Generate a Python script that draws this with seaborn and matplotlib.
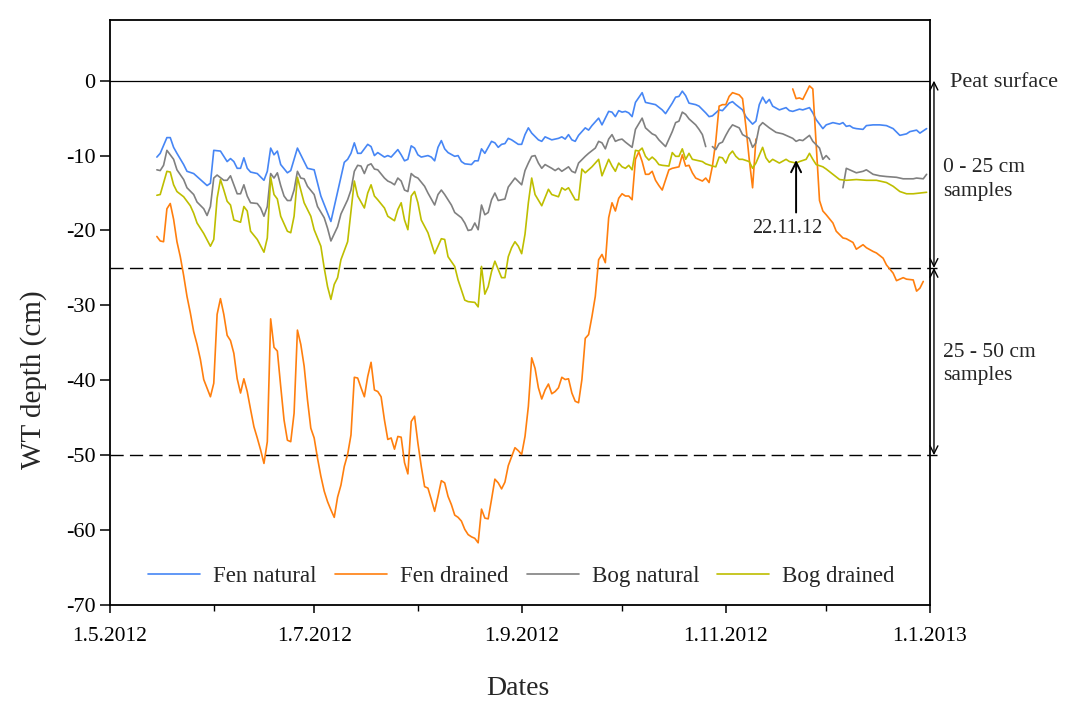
import numpy as np
import pandas as pd
import seaborn as sns
import matplotlib.pyplot as plt
import matplotlib.dates as mdates
from matplotlib.ticker import FuncFormatter

nan = np.nan
start = pd.Timestamp('2012-05-01')

# days after 1.5.2012 and water table depth (cm); nan = gap in record
fen_nat_day = [14, 15, 17, 18, 19, 20, 22, 23, 25, 27,
               29, 30, 31, 33, 35, 36, 37, 38, 39, 40,
               41, 42, 44, 46, 47, 48, 49, 50, 51, 53,
               54, 56, 57, 59, 61, 63, 66, 70, 71, 72,
               73, 74, 75, 77, 78, 79, 80, 82, 83, 84,
               86, 87, 88, 89, 90, 91, 92, 93, 95, 96,
               97, 98, 99, 100, 101, 103, 104, 105, 106, 108,
               109, 110, 111, 112, 114, 115, 116, 117, 118, 119,
               120, 122, 123, 124, 125, 126, 128, 129, 130, 132,
               134, 135, 136, 137, 138, 139, 140, 142, 143, 144,
               146, 147, 149, 150, 151, 152, 153, 154, 155, 156,
               157, 159, 160, 162, 163, 165, 166, 168, 169, 170,
               171, 172, 173, 175, 176, 178, 179, 180, 182, 183,
               185, 186, 187, 189, 190, 192, 193, 194, 195, 196,
               197, 198, 200, 202, 203, 204, 206, 207, 209, 210,
               211, 213, 214, 216, 218, 219, 220, 221, 222, 223,
               225, 226, 228, 230, 232, 234, 236, 238, 239, 241,
               242, 244]
fen_nat_wt = [-10.2, -9.7, -7.6, -7.6, -8.9, -9.7, -11.2, -12.1, -12.4, -13.2,
              -14.0, -13.7, -9.3, -9.4, -10.8, -10.4, -10.8, -11.7, -11.7, -10.3,
              -11.7, -12.2, -12.4, -13.3, -12.1, -9.0, -9.9, -9.4, -11.2, -12.3,
              -12.0, -9.0, -9.9, -11.7, -11.9, -15.4, -18.8, -10.9, -10.5, -9.7,
              -8.3, -9.7, -9.7, -8.5, -8.8, -10.0, -9.6, -10.2, -10.0, -10.2,
              -9.2, -9.9, -10.7, -10.5, -8.7, -9.0, -9.9, -10.2, -10.0, -10.2,
              -10.7, -8.9, -8.0, -9.1, -9.6, -10.1, -10.0, -10.8, -11.1, -11.2,
              -10.7, -10.7, -9.1, -9.7, -8.1, -8.3, -8.9, -8.5, -8.4, -7.7,
              -7.9, -8.5, -8.5, -7.2, -6.3, -7.0, -7.9, -8.1, -7.5, -7.9,
              -7.7, -7.5, -7.8, -7.2, -7.9, -8.1, -7.3, -6.3, -6.6, -6.0,
              -5.0, -5.9, -4.1, -4.2, -4.8, -4.0, -4.2, -4.1, -4.3, -4.8,
              -2.9, -1.6, -2.9, -3.1, -3.2, -3.9, -4.4, -3.0, -2.2, -2.1,
              -1.4, -2.0, -3.0, -3.2, -3.4, -4.3, -4.8, -4.7, -3.9, -4.0,
              -3.0, -2.8, -3.2, -3.9, -4.8, -5.8, -5.4, -3.2, -2.2, -3.0,
              -2.5, -3.4, -3.9, -3.6, -4.0, -4.1, -3.8, -3.9, -3.6, -4.3,
              -5.2, -6.4, -5.9, -5.6, -5.8, -5.6, -6.1, -6.0, -6.3, -6.4,
              -6.5, -6.0, -5.9, -5.9, -6.0, -6.4, -7.3, -7.1, -6.8, -6.6,
              -7.0, -6.4]

fen_dr_day = [14, 15, 16, 17, 18, 19, 20, 21, 22, 23,
              24, 25, 26, 27, 28, 30, 31, 32, 33, 34,
              35, 36, 37, 38, 39, 40, 41, 42, 43, 44,
              45, 46, 47, 48, 49, 50, 51, 52, 53, 54,
              55, 56, 57, 58, 59, 60, 61, 62, 63, 64,
              65, 66, 67, 68, 69, 70, 71, 72, 73, 74,
              75, 76, 77, 78, 79, 80, 81, 82, 83, 84,
              85, 86, 87, 88, 89, 90, 91, 92, 93, 94,
              95, 96, 97, 98, 99, 100, 101, 102, 103, 104,
              105, 106, 107, 108, 109, 110, 111, 112, 113, 114,
              115, 116, 117, 118, 119, 120, 121, 122, 123, 124,
              125, 126, 127, 128, 129, 130, 131, 132, 133, 134,
              135, 136, 137, 138, 139, 140, 141, 142, 143, 144,
              145, 146, 147, 148, 149, 150, 151, 152, 153, 154,
              155, 156, 157, 158, 159, 160, 161, 162, 163, 164,
              165, 167, 168, 170, 171, 172, 173, 174, 175, 176,
              177, 178, 179, 180, 181, 182, 183, 184, 185, 186,
              188, 189, 190, 191, 192, 193, 194, 204, 205, 206,
              207, 208, 209, 210, 211, 212, 213, 214, 216, 217,
              219, 220, 222, 223, 225, 226, 228, 229, 231, 232,
              234, 235, 237, 238, 240, 241, 242, 243]
fen_dr_wt = [-20.8, -21.4, -21.5, -17.1, -16.4, -18.5, -21.5, -23.5, -26.0, -28.8,
             -31.0, -33.5, -35.2, -37.2, -39.9, -42.2, -40.4, -31.2, -29.1, -31.2,
             -34.0, -34.7, -36.4, -39.8, -41.7, -39.8, -41.5, -43.9, -46.2, -47.7,
             -49.3, -51.1, -48.2, -31.8, -35.6, -36.1, -40.8, -45.3, -48.0, -48.2,
             -44.4, -33.3, -35.2, -38.1, -42.6, -46.4, -47.7, -50.4, -52.8, -54.8,
             -56.2, -57.3, -58.3, -55.6, -54.0, -51.5, -49.9, -47.3, -39.6, -39.7,
             -41.0, -42.2, -39.5, -37.6, -41.3, -41.5, -42.2, -45.3, -47.9, -47.7,
             -49.2, -47.5, -47.6, -51.0, -52.5, -45.5, -44.8, -48.4, -51.5, -54.2,
             -54.4, -55.9, -57.5, -55.5, -53.4, -53.7, -55.5, -56.6, -58.0, -58.3,
             -58.8, -59.9, -60.6, -60.9, -61.1, -61.7, -57.2, -58.4, -58.5, -55.9,
             -53.2, -53.7, -54.5, -53.6, -51.4, -50.2, -49.0, -49.4, -49.9, -47.5,
             -43.5, -37.0, -38.4, -41.0, -42.5, -41.3, -40.5, -41.8, -41.5, -41.0,
             -39.6, -39.9, -39.8, -41.7, -42.8, -43.0, -39.9, -34.4, -33.9, -31.5,
             -28.8, -23.9, -23.2, -24.3, -18.3, -16.3, -17.4, -15.7, -15.1, -15.4,
             -15.4, -15.9, -10.5, -9.5, -10.8, -12.5, -12.5, -12.1, -13.3, -14.0,
             -14.6, -11.9, -11.7, -11.5, -9.9, -11.4, -11.3, -12.3, -13.0, -13.2,
             -13.4, -13.0, -13.6, -11.4, -8.1, -3.4, -3.2, -3.2, -2.1, -1.6,
             -1.9, -2.4, -6.1, -10.5, -14.3, -7.8, nan, -1.1, -2.4, -2.3,
             -2.5, -1.6, -0.7, -1.1, -8.5, -16.0, -17.4, -17.9, -19.0, -20.1,
             -21.0, -21.1, -21.6, -22.5, -21.9, -22.3, -22.8, -23.0, -23.7, -24.6,
             -25.7, -26.7, -26.3, -26.5, -26.6, -28.1, -27.7, -26.8]

bog_nat_day = [14, 15, 16, 17, 19, 20, 22, 23, 25, 26,
               28, 29, 30, 31, 32, 34, 35, 36, 37, 38,
               39, 40, 41, 42, 44, 45, 46, 47, 48, 49,
               50, 51, 52, 53, 54, 55, 56, 57, 58, 59,
               61, 62, 64, 65, 66, 68, 69, 71, 72, 73,
               74, 75, 76, 77, 78, 79, 80, 82, 83, 84,
               85, 86, 87, 88, 89, 90, 91, 92, 94, 95,
               97, 98, 99, 100, 102, 103, 105, 106, 107, 108,
               109, 110, 111, 112, 113, 114, 115, 116, 118, 119,
               121, 123, 124, 125, 126, 127, 128, 129, 130, 132,
               133, 134, 135, 137, 138, 139, 140, 142, 143, 145,
               146, 147, 148, 149, 150, 151, 152, 153, 154, 156,
               157, 159, 160, 162, 163, 164, 166, 168, 169, 170,
               171, 172, 173, 175, 176, 177, 178, 179, 180, 181,
               182, 183, 184, 185, 186, 188, 189, 191, 192, 193,
               194, 195, 197, 199, 201, 202, 204, 205, 206, 207,
               209, 210, 212, 213, 214, 215, 216, 219, 220, 221,
               223, 225, 226, 228, 230, 232, 235, 237, 238, 240,
               241, 243, 244]
bog_nat_wt = [-11.9, -12.0, -11.3, -9.3, -10.5, -11.9, -13.2, -14.3, -15.2, -16.2,
              -17.1, -18.0, -16.8, -13.0, -12.6, -13.3, -13.3, -12.7, -13.9, -15.1,
              -15.1, -13.9, -15.4, -16.3, -16.4, -17.0, -18.1, -16.8, -12.4, -13.0,
              -12.3, -14.0, -15.4, -16.0, -16.0, -14.6, -12.1, -13.0, -13.1, -14.1,
              -15.2, -16.8, -18.3, -19.7, -21.4, -19.5, -17.8, -15.9, -14.6, -12.1,
              -11.3, -11.4, -12.4, -11.3, -11.1, -11.8, -11.9, -13.0, -13.4, -13.6,
              -13.9, -13.0, -13.4, -14.6, -14.8, -12.4, -12.8, -13.0, -14.1, -15.0,
              -16.6, -15.2, -14.6, -15.2, -16.6, -17.6, -18.3, -19.0, -20.0, -19.9,
              -19.0, -19.9, -16.6, -17.9, -17.6, -15.9, -15.0, -16.0, -15.8, -14.2,
              -13.0, -13.9, -12.0, -11.0, -10.1, -10.0, -11.0, -11.7, -11.2, -11.7,
              -12.0, -11.7, -12.1, -11.5, -12.1, -12.3, -11.0, -10.1, -9.7, -9.0,
              -8.1, -8.3, -9.1, -7.8, -7.2, -8.1, -7.9, -7.8, -8.2, -8.9,
              -6.5, -5.0, -6.3, -7.1, -7.3, -7.9, -8.8, -6.8, -5.6, -5.4,
              -4.2, -4.5, -5.1, -5.9, -6.5, -7.2, -8.8, nan, -8.8, -9.2,
              -8.4, -8.2, -7.3, -6.5, -5.9, -6.3, -7.2, -7.7, -8.9, -8.3,
              -6.1, -5.6, -6.3, -6.9, -7.1, -7.3, -7.7, -8.1, -7.9, -8.0,
              -7.3, -8.1, -9.0, -10.5, -10.0, -10.5, nan, -14.3, -11.7, -11.9,
              -12.3, -12.1, -11.9, -12.5, -12.7, -12.8, -12.9, -13.1, -13.1, -13.1,
              -13.0, -13.1, -12.5]

bog_dr_day = [14, 15, 17, 18, 19, 20, 22, 24, 25, 26,
              28, 30, 31, 32, 33, 34, 35, 36, 37, 39,
              40, 41, 42, 44, 46, 47, 48, 49, 50, 51,
              53, 54, 55, 56, 57, 58, 60, 61, 63, 64,
              65, 66, 67, 68, 69, 71, 73, 74, 76, 77,
              78, 79, 80, 82, 83, 85, 86, 87, 88, 89,
              90, 91, 92, 93, 95, 96, 97, 98, 99, 100,
              101, 103, 104, 106, 107, 109, 110, 111, 112, 113,
              114, 115, 116, 117, 118, 119, 120, 121, 122, 123,
              124, 125, 126, 127, 129, 131, 132, 134, 135, 136,
              137, 139, 140, 141, 142, 144, 146, 147, 149, 150,
              151, 152, 153, 154, 155, 156, 157, 158, 159, 160,
              161, 162, 163, 164, 165, 167, 168, 169, 170, 171,
              172, 173, 174, 175, 177, 178, 180, 181, 182, 183,
              184, 185, 186, 187, 188, 189, 191, 192, 193, 195,
              196, 197, 198, 200, 202, 203, 205, 206, 208, 209,
              210, 211, 213, 214, 216, 218, 220, 223, 226, 229,
              232, 234, 236, 238, 240, 242, 244]
bog_dr_wt = [-15.3, -15.2, -12.1, -12.2, -13.9, -14.8, -15.5, -16.7, -17.7, -19.0,
             -20.4, -22.1, -21.2, -15.7, -13.2, -14.6, -16.1, -16.6, -18.6, -18.9,
             -16.8, -17.4, -20.1, -21.2, -22.9, -21.0, -12.9, -15.2, -15.8, -18.1,
             -20.1, -20.3, -18.1, -12.9, -14.6, -16.3, -18.1, -19.9, -22.1, -25.0,
             -27.5, -29.2, -27.2, -26.3, -23.9, -21.5, -13.4, -15.4, -17.0, -15.0,
             -13.9, -15.4, -15.9, -17.0, -18.1, -18.7, -17.2, -16.3, -18.6, -19.9,
             -15.4, -14.8, -16.3, -18.6, -20.3, -21.7, -23.1, -22.1, -21.1, -21.2,
             -23.5, -24.8, -26.6, -29.3, -29.5, -29.6, -30.2, -24.8, -28.5, -27.5,
             -25.5, -24.1, -25.2, -26.3, -26.3, -23.5, -22.3, -21.5, -22.1, -23.1,
             -20.5, -16.3, -13.0, -15.2, -16.7, -14.5, -15.2, -15.5, -14.3, -14.6,
             -14.3, -15.9, -15.9, -11.8, -12.3, -11.5, -10.5, -12.7, -10.5, -11.4,
             -12.1, -11.0, -11.5, -11.7, -11.3, -11.9, -9.3, -9.4, -9.0, -10.1,
             -10.6, -10.2, -10.6, -11.2, -11.3, -11.4, -9.6, -10.1, -10.1, -9.1,
             -10.5, -9.7, -10.5, -10.6, -10.8, -11.1, -11.4, -11.5, -10.2, -10.3,
             -11.0, -9.9, -9.4, -10.1, -10.5, -10.5, -10.8, -11.7, -11.0, -8.9,
             -10.3, -10.9, -10.5, -11.0, -10.5, -10.8, -11.0, -10.8, -10.5, -9.7,
             -10.5, -11.2, -11.5, -11.8, -12.5, -13.2, -13.3, -13.2, -13.3, -13.3,
             -13.6, -14.1, -14.8, -15.1, -15.1, -15.0, -14.9]

names = ['Fen natural', 'Fen drained', 'Bog natural', 'Bog drained']
days = [fen_nat_day, fen_dr_day, bog_nat_day, bog_dr_day]
depths = [fen_nat_wt, fen_dr_wt, bog_nat_wt, bog_dr_wt]
colors = ['#4686f5', '#ff7f0e', '#808080', '#bebe00']

sns.set_style('ticks')
plt.rcParams['font.family'] = ['Liberation Serif', 'DejaVu Serif']
plt.rcParams['axes.unicode_minus'] = False

fig, ax = plt.subplots(figsize=(10.65, 7.02), dpi=100)
fig.subplots_adjust(left=0.1033, right=0.8732, bottom=0.1382, top=0.9715)

for name, d, wt, col in zip(names, days, depths, colors):
    assert len(d) == len(wt), name
    df = pd.DataFrame({'date': start + pd.to_timedelta(d, unit='D'), 'wt': wt})
    # break the line where the logger had no data
    df['seg'] = df['wt'].isna().cumsum()
    df = df.dropna()
    first = True
    for _, part in df.groupby('seg'):
        sns.lineplot(data=part, x='date', y='wt', color=col, linewidth=1.2,
                     estimator=None, ax=ax, label=name if first else '_nolegend_')
        first = False

# reference levels
ax.axhline(0, color='black', lw=0.9, zorder=1)
for lvl in [-25, -50]:
    ax.axhline(lvl, xmin=0, xmax=1.0085, color='black', lw=1.0,
               ls=(0, (9.5, 4.5)), clip_on=False, zorder=1)

# sampling depth arrows on the right
tr = ax.get_yaxis_transform()
for top, bot in [(0, -25), (-25, -50)]:
    ax.annotate('', xy=(1.0049, top), xytext=(1.0049, bot), xycoords=tr, textcoords=tr,
                annotation_clip=False,
                arrowprops=dict(arrowstyle='<->', color='black', lw=1.0,
                                shrinkA=0, shrinkB=0, mutation_scale=14))
ax.text(1.0244, -0.3, 'Peat surface', transform=tr, ha='left', va='center', fontsize=16)
ax.text(1.0159, -13.2, '0 - 25 cm\nsamples', transform=tr, ha='left', va='center',
        fontsize=15.5, linespacing=1.3)
ax.text(1.0159, -37.8, '25 - 50 cm\nsamples', transform=tr, ha='left', va='center',
        fontsize=15.5, linespacing=1.3)

# date marker
mark = mdates.date2num(pd.Timestamp('2012-11-22'))
ax.annotate('', xy=(mark, -10.6), xytext=(mark, -17.6),
            arrowprops=dict(arrowstyle='->', color='black', lw=1.4,
                            shrinkA=0, shrinkB=0, mutation_scale=18))
ax.text(mark - 2.5, -19.7, '22.11.12', ha='center', va='center', fontsize=14.5)

# axes
ax.set_xlim(mdates.date2num(pd.Timestamp('2012-05-01')), mdates.date2num(pd.Timestamp('2013-01-01')))
ax.set_ylim(-70, 8.1)
ax.set_yticks(np.arange(-70, 1, 10))
ax.xaxis.set_major_locator(mdates.MonthLocator(bymonth=[1, 5, 7, 9, 11]))
ax.xaxis.set_minor_locator(mdates.MonthLocator())
ax.xaxis.set_major_formatter(FuncFormatter(
    lambda v, p: '{0.day}.{0.month}.{0.year}'.format(mdates.num2date(v))))
ax.tick_params(axis='both', which='major', direction='out', width=1.1,
               color='black', labelcolor='black')
ax.tick_params(axis='x', which='major', length=6, pad=10, labelsize=15.5)
ax.tick_params(axis='y', which='major', length=7, pad=3.5, labelsize=16)
ax.tick_params(axis='x', which='minor', direction='out', length=4, width=1.0, color='black')
for sp in ax.spines.values():
    sp.set_color('black')
    sp.set_linewidth(1.3)

ax.set_xlabel('Dates', fontsize=20)
ax.set_ylabel('WT depth (cm)', fontsize=21)
ax.xaxis.set_label_coords(0.4976, -0.121)
ax.yaxis.set_label_coords(-0.077, 0.385)

ax.legend(loc='center', bbox_to_anchor=(0.502, 0.048), ncol=4, frameon=False,
          fontsize=16.5, handlelength=2.27, handletextpad=0.57, columnspacing=0.79)

fig.savefig('out.png', dpi=100)
